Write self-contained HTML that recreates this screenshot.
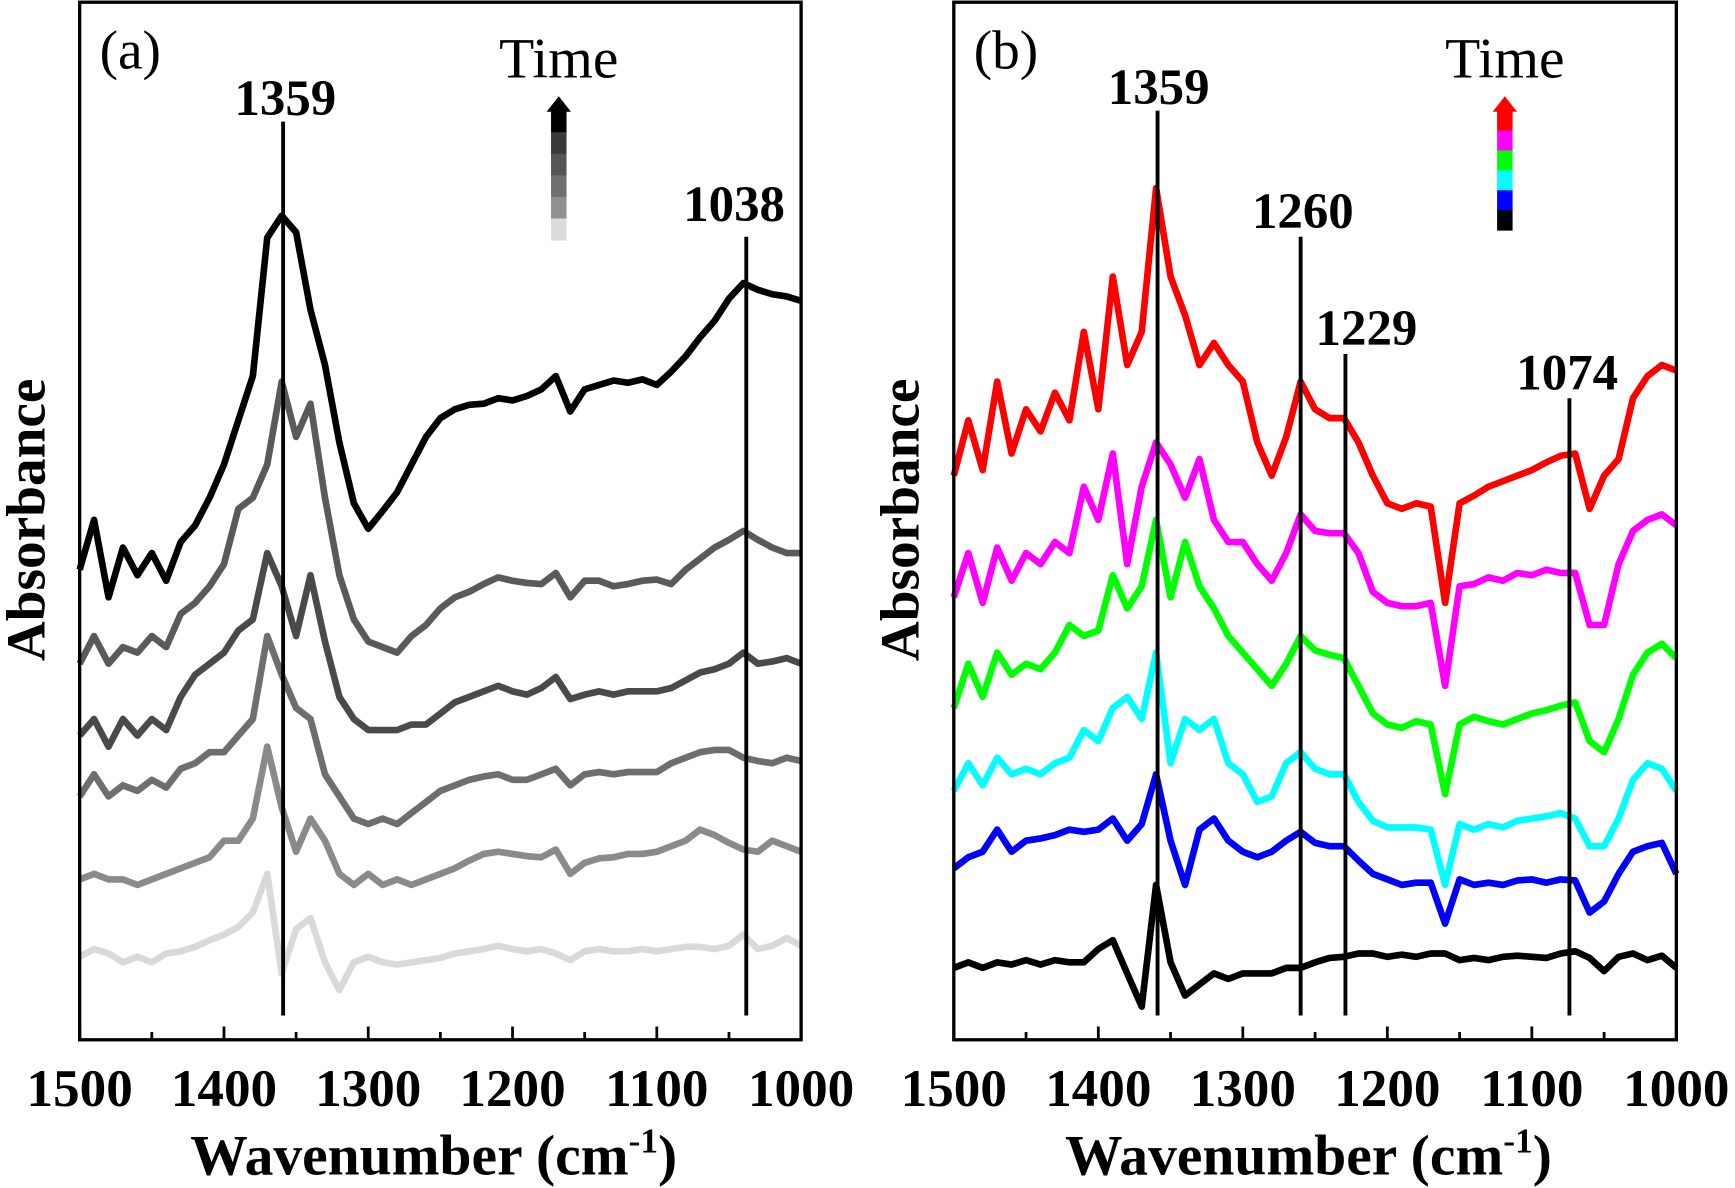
<!DOCTYPE html>
<html><head><meta charset="utf-8"><style>
html,body{margin:0;padding:0;background:#fff;}
svg{display:block;}
text{font-family:"Liberation Serif",serif;}
</style></head><body>
<svg id="chart" width="1735" height="1188" viewBox="0 0 1568 1074" preserveAspectRatio="none" xmlns="http://www.w3.org/2000/svg"></svg>
<script>
// wavenumbers 1500..1000 step 10
const wavenumbers = [];
for (let w = 1500; w >= 1000; w -= 10) wavenumbers.push(w);
// Panel (a) absorbance (a.u. x1000, offset stacked), bottom -> top
const a1 = [75,82,78,70,75,70,78,80,84,90, 95,102,115,150,60,100,110,70,45,70, 75,70,68,70,72,74,78,80,82,85, 82,80,82,78,72,80,82,80,80,82, 80,82,84,84,82,85,95,82,85,92, 85];
const a2 = [145,150,145,145,140,145,150,155,160,165, 180,180,200,265,210,170,200,180,150,140, 150,140,145,140,145,150,155,162,168,170, 168,166,165,172,150,160,164,165,168,168, 170,175,180,190,185,178,172,170,180,175, 170];
const a3 = [220,240,220,230,225,235,228,245,250,260, 260,275,290,365,330,300,290,240,220,200, 195,200,195,205,215,225,230,235,238,240, 235,235,240,245,230,240,242,240,242,242, 242,250,255,260,262,262,255,252,250,255, 252];
const a4 = [275,290,265,290,275,290,280,310,330,340, 350,370,380,440,410,365,420,360,310,290, 280,280,280,285,285,295,305,310,315,320, 315,312,318,328,308,312,315,312,315,315, 315,318,325,332,335,340,350,340,342,345, 340];
const a5 = [340,365,340,355,350,365,355,385,395,410, 430,480,490,520,595,545,575,490,420,380, 360,355,350,365,375,390,400,405,412,418, 415,413,412,422,400,415,415,410,412,415, 416,412,425,435,445,452,460,452,445,440, 440];
const a6 = [425,470,400,445,420,440,415,450,465,490, 520,560,600,725,745,730,660,610,540,485, 462,478,495,520,545,562,570,574,575,580, 578,582,588,600,568,588,592,596,594,597, 592,604,618,635,650,670,684,678,674,672, 668];
// Panel (b)
const b1 = [65,70,65,70,68,72,68,72,70,70, 82,90,60,30,140,70,40,50,60,55, 60,60,60,65,65,70,74,75,78,78, 75,77,75,78,78,72,74,72,75,76, 75,74,78,80,74,62,75,78,72,76, 65];
const b2 = [155,165,170,190,170,180,182,185,190,188, 190,200,180,195,240,180,140,190,200,180, 170,165,170,180,188,178,175,175,162,150, 145,140,142,142,105,145,140,142,140,144, 145,142,145,144,115,125,150,170,175,178, 150];
const b3 = [225,250,230,255,240,245,240,250,255,280, 270,300,310,290,350,250,290,280,290,250, 240,215,220,250,260,245,240,240,215,198, 192,192,192,190,140,195,190,195,192,198, 200,202,205,200,175,175,200,235,250,245, 225];
const b4 = [300,340,310,350,330,340,335,350,375,365, 370,420,390,410,470,400,450,410,390,365, 350,335,320,340,365,352,348,345,320,295, 285,282,288,285,222,285,292,288,285,290, 295,298,302,305,270,260,290,330,350,358, 345];
const b5 = [400,440,395,445,415,440,430,450,440,500, 470,530,430,500,540,520,490,525,470,450, 450,430,415,440,475,460,458,458,440,405, 395,392,392,395,320,410,412,418,415,422, 420,425,422,422,375,375,430,460,470,475, 465];
const b6 = [510,560,515,595,530,570,550,585,560,640, 570,690,610,640,770,690,655,610,630,610, 595,540,510,545,595,570,562,562,540,510, 485,480,485,482,395,485,492,500,505,510, 515,522,528,530,480,510,525,580,600,610, 605];
const tickLabels = [1500,1400,1300,1200,1100,1000];
const markersA = [1359,1038];
const markersB = [1359,1260,1229,1074];

const NS = "http://www.w3.org/2000/svg";
const svg = document.getElementById('chart');
function mk(tag, attrs, parent){const e=document.createElementNS(NS,tag);for(const k in attrs)e.setAttribute(k,attrs[k]);(parent||svg).appendChild(e);return e;}
const TOP=2, BOT=940;
function yScale(v){return BOT - v;}

function panel(id, x0, x1, series, colors, markers, markerTops, labelPos, letter, legendX, legendColors){
  const xs = w => x0 + (1500 - w) / 500 * (x1 - x0);
  const g = mk('g',{});
  
  
  series.forEach((s,i)=>{
    const d = s.map((v,j)=>(j?'L':'M')+xs(wavenumbers[j]).toFixed(1)+' '+yScale(v).toFixed(1)).join(' ');
    const p = mk('path',{d:d,fill:'none',stroke:colors[i],'stroke-width':6,'stroke-linejoin':'round'},g);
    
    
  });
  markers.forEach((m,i)=>{
    const l = mk('line',{x1:xs(m),x2:xs(m),y1:markerTops[i],y2:918,stroke:'#000','stroke-width':3.5},g);
    
    
    const t = mk('text',{x:xs(m)+labelPos[i][0],y:markerTops[i]+labelPos[i][1],'font-size':46,'font-weight':'bold','text-anchor':'middle'},g);
    t.textContent = String(m);
    
    
  });
  const fr = mk('rect',{x:x0,y:TOP,width:x1-x0,height:BOT-TOP,fill:'none',stroke:'#000','stroke-width':3},g);
  
  
  for(let w=1500; w>=1000; w-=50){
    const major = w%100===0;
    const tk = mk('line',{x1:xs(w),x2:xs(w),y1:BOT,y2:BOT-(major?12:7),stroke:'#000','stroke-width':2.5},g);
    
    
  }
  tickLabels.forEach(w=>{
    const t = mk('text',{x:xs(w),y:1000,'font-size':48,'font-weight':'bold','text-anchor':'middle'},g);
    t.textContent = w;
    
    
  });
  const xt = mk('text',{x:(x0+x1)/2-6,y:1062,'font-size':52,'font-weight':'bold','text-anchor':'middle'},g);
  xt.innerHTML = 'Wavenumber (cm<tspan dy="-20" font-size="32">-1</tspan><tspan dy="20">)</tspan>';
  
  
  const yt = mk('text',{x:0,y:0,'font-size':50,'font-weight':'bold','text-anchor':'middle',transform:'translate('+(x0-32)+',470) rotate(-90)'},g);
  yt.textContent = 'Absorbance';
  
  
  const lt = mk('text',{x:x0+18,y:62,'font-size':50},g);
  lt.textContent = letter;
  
  
  const tt = mk('text',{x:legendX+7,y:70,'font-size':52,'text-anchor':'middle'},g);
  tt.textContent = 'Time';
  
  
  const segH = (legendColors.segEnd-100)/legendColors.c.length;
  legendColors.c.forEach((c,i)=>{
    const r = mk('rect',{x:legendX,y:100+i*segH,width:14,height:segH+0.5,fill:c},g);
    
    
  });
  const ah = mk('polygon',{points:(legendX-4)+',101 '+(legendX+7)+',87 '+(legendX+18)+',101',fill:legendColors.c[0]},g);
  
  
}
panel('a',72,724,[a1,a2,a3,a4,a5,a6],['#d9d9d9','#8a8a8a','#6e6e6e','#4a4a4a','#5a5a5a','#000'],
  markersA,[110,214],[[2,-6],[-11,-14]],'(a)',498,
  {c:['#000','#3a3a3a','#555','#707070','#909090','#dcdcdc'],segEnd:217});
panel('b',862,1515,[b1,b2,b3,b4,b5,b6],['#000','#0000ff','#00ffff','#00ff00','#ff00ff','#ff0000'],
  markersB,[100,214,320,360],[[1,-6],[2,-8],[19,-8],[-2,-8]],'(b)',1353,
  {c:['#ff0000','#ff00ff','#00ff00','#00ffff','#0000ff','#000'],segEnd:208});
</script>
</body></html>
